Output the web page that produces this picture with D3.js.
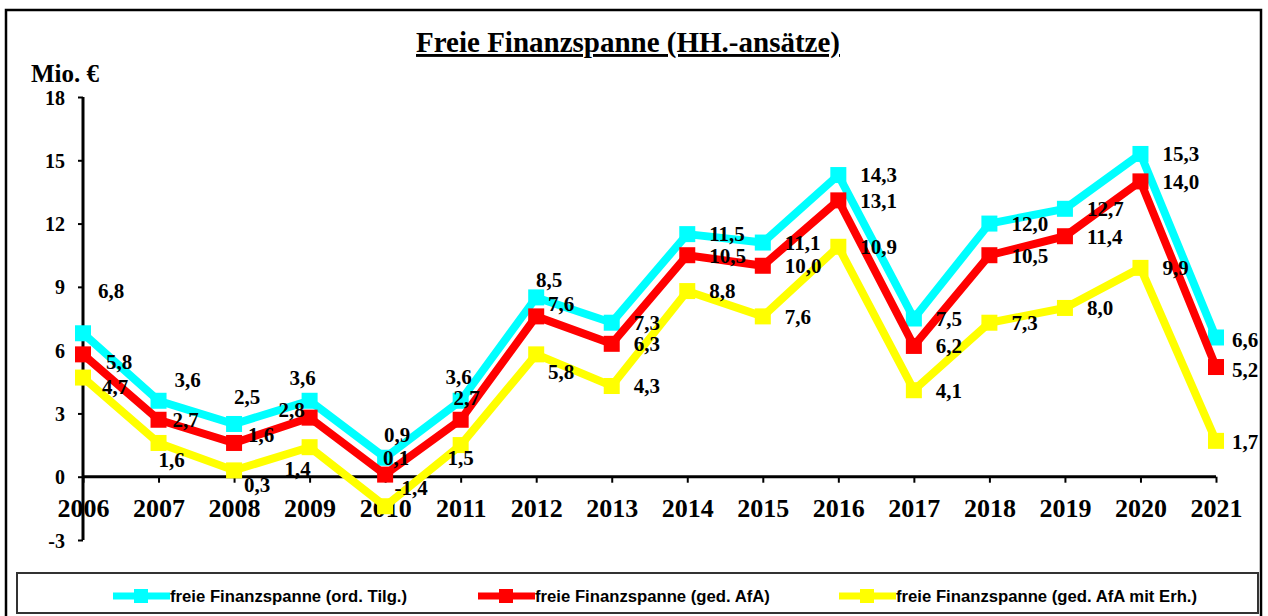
<!DOCTYPE html>
<html>
<head>
<meta charset="utf-8">
<script src="https://cdn.jsdelivr.net/npm/d3@7"></script>
<style>
  body { margin: 0; background: #fff; }
  svg text { font-family: "Liberation Serif", "Times New Roman", serif; font-weight: bold; }
</style>
</head>
<body>
<div class="canvas"></div>
<script>
// data
const years = ['2006','2007','2008','2009','2010','2011','2012','2013','2014','2015','2016','2017','2018','2019','2020','2021'];
const ordTilg = [6.8, 3.6, 2.5, 3.6, 0.9, 3.6, 8.5, 7.3, 11.5, 11.1, 14.3, 7.5, 12.0, 12.7, 15.3, 6.6];
const gedAfA = [5.8, 2.7, 1.6, 2.8, 0.1, 2.7, 7.6, 6.3, 10.5, 10.0, 13.1, 6.2, 10.5, 11.4, 14.0, 5.2];
const gedAfAErh = [4.7, 1.6, 0.3, 1.4, -1.4, 1.5, 5.8, 4.3, 8.8, 7.6, 10.9, 4.1, 7.3, 8.0, 9.9, 1.7];
const yTicks = [-3, 0, 3, 6, 9, 12, 15, 18];

// hand-moved data labels (label centre relative to the point), others sit right of the point
const labelNudge = [
  {'2006': [28, -43], '2007': [29, -21], '2008': [13, -27], '2009': [-7, -23], '2010': [12, -23], '2011': [-2, -24], '2012': [13, -18], '2021': [29, 2]},
  {'2006': [36, 7], '2007': [27, 0], '2008': [27, -8], '2009': [-18, -8], '2010': [11, -17], '2011': [6, -22], '2012': [25, -13], '2021': [29, 3]},
  {'2006': [32, 9], '2007': [13, 17], '2008': [23, 14], '2009': [-12, 21], '2010': [26, -19], '2011': [0, 13], '2012': [25, 17], '2021': [29, 1]}
];

const series = [
  {name: 'freie Finanzspanne (ord. Tilg.)', values: ordTilg, color: '#00ffff'},
  {name: 'freie Finanzspanne (ged. AfA)', values: gedAfA, color: '#ff0000'},
  {name: 'freie Finanzspanne (ged. AfA mit Erh.)', values: gedAfAErh, color: '#ffff00'}
];

const W = 1268, H = 616;
const margin = {top: 97, right: 52, bottom: 76, left: 83};
const graphWidth = W - margin.left - margin.right;
const graphHeight = H - margin.top - margin.bottom;

const svg = d3.select('.canvas').append('svg')
    .attr('width', W)
    .attr('height', H);

// outer frame
svg.append('rect')
    .attr('x', 6).attr('y', 10)
    .attr('width', 1255).attr('height', 620)
    .attr('fill', 'none').attr('stroke', '#000').attr('stroke-width', 2.5);

// title
svg.append('text')
    .attr('x', 628).attr('y', 52)
    .attr('text-anchor', 'middle')
    .attr('font-size', 29)
    .attr('text-decoration', 'underline')
    .text('Freie Finanzspanne (HH.-ansätze)');

svg.append('text')
    .attr('x', 31).attr('y', 82)
    .attr('font-size', 25)
    .text('Mio. €');

const graph = svg.append('g')
    .attr('transform', `translate(${margin.left}, ${margin.top})`);

// scales
const x = d3.scalePoint()
    .domain(years)
    .range([0, graphWidth]);
const y = d3.scaleLinear()
    .domain([-3, 18])
    .range([graphHeight, 0]);

// y axis
const yAxisGroup = graph.append('g')
    .call(d3.axisLeft(y).tickValues(yTicks).tickFormat(d => String(d)).tickSize(5).tickPadding(13));
// x axis at zero
const xAxisGroup = graph.append('g')
    .attr('transform', `translate(0, ${y(0)})`)
    .call(d3.axisBottom(x).tickSize(6).tickPadding(17));

[yAxisGroup, xAxisGroup].forEach(g => {
  g.select('.domain').attr('stroke', '#000').attr('stroke-width', 3);
  g.selectAll('.tick line').attr('stroke', '#000').attr('stroke-width', 2);
  g.selectAll('text').attr('fill', '#000')
    .style('font-family', '"Liberation Serif", serif').style('font-weight', 'bold');
});
yAxisGroup.select('.domain').attr('d', `M0,${y(18)}V${y(-3)}`);
xAxisGroup.select('.domain').attr('d', `M0,0H${graphWidth}`);
yAxisGroup.selectAll('text').attr('font-size', 20).attr('dy', '0.35em');
xAxisGroup.selectAll('text').attr('font-size', 26).attr('dy', '0.66em');

// line generator
const line = d3.line()
    .x((d, i) => x(years[i]))
    .y(d => y(d));

series.forEach(s => {
  const g = graph.append('g');
  g.append('path')
      .datum(s.values)
      .attr('d', line)
      .attr('fill', 'none')
      .attr('stroke', s.color)
      .attr('stroke-width', 8)
      .attr('stroke-linejoin', 'miter');
  g.selectAll('rect')
      .data(s.values)
      .enter().append('rect')
      .attr('x', (d, i) => x(years[i]) - 8)
      .attr('y', d => y(d) - 8)
      .attr('width', 16).attr('height', 16)
      .attr('fill', s.color);
});

// data labels
const fmt = d => d3.format('.1f')(d).replace('.', ',').replace('−', '-');
series.forEach((s, si) => {
  graph.append('g').selectAll('text')
      .data(s.values)
      .enter().append('text')
      .each(function(d, i) {
        const nudge = labelNudge[si][years[i]];
        const t = d3.select(this)
            .attr('y', y(d))
            .attr('dy', '0.35em');
        if (nudge) {
          t.attr('x', x(years[i]) + nudge[0])
           .attr('y', y(d) + nudge[1])
           .attr('text-anchor', 'middle');
        } else {
          t.attr('x', x(years[i]) + 22)
           .attr('text-anchor', 'start');
        }
      })
      .attr('font-size', 21)
      .attr('fill', '#000')
      .text(fmt);
});

// legend
const legend = svg.append('g');
legend.append('rect')
    .attr('x', 17).attr('y', 573)
    .attr('width', 1241).attr('height', 40)
    .attr('fill', '#fff').attr('stroke', '#333').attr('stroke-width', 2);

const legendX = [113, 478, 839];
series.forEach((s, i) => {
  const lg = legend.append('g').attr('transform', `translate(${legendX[i]}, 596)`);
  lg.append('line')
      .attr('x1', 0).attr('x2', 57)
      .attr('stroke', s.color).attr('stroke-width', 7);
  lg.append('rect')
      .attr('x', 21).attr('y', -7).attr('width', 14).attr('height', 14)
      .attr('fill', s.color);
  lg.append('text')
      .attr('x', 57).attr('y', 6)
      .attr('font-size', 16.7)
      .style('font-family', '"Liberation Sans", Arial, sans-serif')
      .text(s.name);
});
</script>
</body>
</html>
